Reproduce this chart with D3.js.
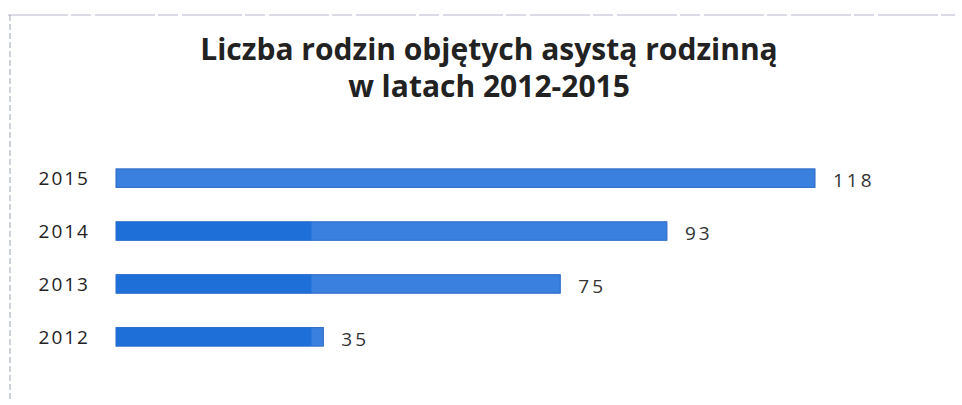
<!DOCTYPE html>
<html>
<head>
<meta charset="utf-8">
<script src="https://cdn.jsdelivr.net/npm/d3@7"></script>
<style>
  body { margin: 0; background: #fff; }
</style>
</head>
<body>
<div id="vis"></div>
<script>
// data
const years = ['2015', '2014', '2013', '2012']
const families = [118, 93, 75, 35]
const titleLines = ['Liczba rodzin objętych asystą rodzinną', 'w latach 2012-2015']

const width = 962
const height = 405

const svg = d3.select('#vis')
    .append('svg')
    .attr('width', width)
    .attr('height', height)

// scanned frame edges
svg.append('line')
    .attr('x1', 8).attr('x2', 955).attr('y1', 15).attr('y2', 15)
    .attr('stroke', '#d3cde0').attr('stroke-width', 1.5)
    .attr('stroke-dasharray', '60,3,20,4')
svg.append('line')
    .attr('x1', 10).attr('x2', 10).attr('y1', 15).attr('y2', 402)
    .attr('stroke', '#9aa3b5').attr('stroke-width', 1)
    .attr('stroke-dasharray', '6,3')

// title
svg.append('text')
    .attr('x', 489)
    .attr('y', 60)
    .attr('text-anchor', 'middle')
    .style('font-family', 'Open Sans, sans-serif')
    .style('font-weight', 'bold')
    .style('font-size', '30px')
    .attr('fill', '#222')
    .selectAll('tspan')
    .data(titleLines)
    .enter()
    .append('tspan')
    .attr('x', 489)
    .attr('dy', (d, i) => i === 0 ? 0 : 37)
    .text(d => d)

const x = d3.scaleLinear()
    .domain([0, 118])
    .range([116, 815])

const y = d3.scaleBand()
    .domain(years)
    .range([153, 362])
    .paddingInner(0.65)
    .paddingOuter(0.3)

const rows = svg.selectAll('.row')
    .data(years.map((yr, i) => ({ year: yr, value: families[i] })))
    .enter()
    .append('g')
    .attr('class', 'row')

rows.append('rect')
    .attr('x', x(0))
    .attr('y', d => y(d.year))
    .attr('width', d => x(d.value) - x(0))
    .attr('height', y.bandwidth())
    .attr('fill', '#3a80de')
    .attr('stroke', '#2a66c4')
    .attr('stroke-width', 1)

// darker left part seen on the scan
rows.append('rect')
    .attr('x', x(0))
    .attr('y', d => y(d.year))
    .attr('width', d => Math.min(x(d.value), x(33)) - x(0))
    .attr('height', y.bandwidth())
    .attr('fill', d => d.year === '2015' ? 'none' : '#1f6fd8')

// year labels
rows.append('text')
    .attr('x', 90)
    .attr('y', d => y(d.year) + y.bandwidth() / 2)
    .attr('dy', '0.35em')
    .attr('text-anchor', 'end')
    .style('font-family', 'Open Sans, sans-serif')
    .style('font-size', '19px')
    .style('letter-spacing', '2px')
    .attr('fill', '#222')
    .text(d => d.year)

// value labels
rows.append('text')
    .attr('x', d => x(d.value) + 18)
    .attr('y', d => y(d.year) + y.bandwidth() / 2 + 2)
    .attr('dy', '0.35em')
    .style('font-family', 'Open Sans, sans-serif')
    .style('font-size', '19px')
    .style('letter-spacing', '3px')
    .attr('fill', '#333')
    .text(d => d.value)
</script>
</body>
</html>
